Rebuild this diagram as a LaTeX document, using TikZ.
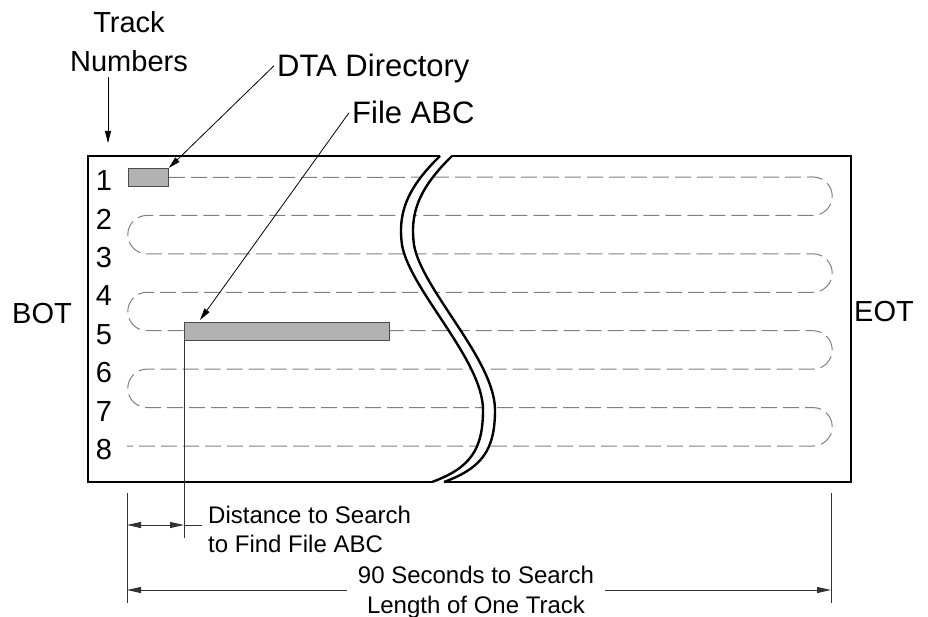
\documentclass[tikz,border=0pt]{standalone}
\usepackage{fontspec}
\setmainfont{Liberation Sans}
\usetikzlibrary{arrows.meta,backgrounds,positioning}

\begin{document}
\begin{tikzpicture}[x=1pt,y=-1pt,every node/.style={inner sep=0pt},
  bigtext/.style={font=\fontsize{29}{35}\selectfont},
  labeltext/.style={font=\fontsize{31}{37}\selectfont},
  smalltext/.style={font=\fontsize{24}{29}\selectfont},
  edgeline/.style={line width=2.4pt,line join=miter},
  waveline/.style={line width=2.4pt},
  trackline/.style={draw=black!50,line width=1pt,dash pattern=on 16pt off 6pt},
  filebox/.style={draw=black!70,fill=black!30,line width=0.8pt},
  pointer/.style={line width=0.8pt,-{Triangle[length=12pt,width=6pt]}},
  dimline/.style={line width=1pt,draw=black!80},
  dimarrow/.style={dimline,-{Triangle[length=14pt,width=6pt]}}
]

\useasboundingbox (0,0) rectangle (928,617);

% data blocks on the tape
\node[filebox,minimum width=40pt,minimum height=18pt,anchor=north west] (dtabox) at (128,168) {};
\node[filebox,minimum width=205pt,minimum height=18pt,anchor=north west] (fabcbox) at (184,322) {};

% serpentine tracks, cut by the break
\begin{scope}[on background layer]
\draw[trackline] (dtabox.east) -- (813,177) arc[start angle=90,end angle=-90,radius=19.215pt]
  \foreach \k in {1,2,3}{ -- ++(-666,0) arc[start angle=90,end angle=270,radius=19.215pt]
                          -- ++(666,0) arc[start angle=90,end angle=-90,radius=19.215pt] }
  -- ++(-686,0);
\fill[white] (440,156) .. controls (405,190) and (398,215) .. (402,245)
  .. controls (410,290) and (483,360) .. (483,410)
  .. controls (483,450) and (470,468) .. (432,482) -- (444,482)
  .. controls (482,468) and (495,450) .. (495,410)
  .. controls (495,360) and (422,290) .. (414,245)
  .. controls (410,215) and (417,190) .. (452,156) -- cycle;
\end{scope}

% tape outline with break
\draw[edgeline] (440,156) -- (88,156) -- (88,482) -- (432,482);
\draw[edgeline] (452,156) -- (851,156) -- (851,482) -- (444,482);
\foreach \s in {0,12}
  \draw[waveline,xshift=\s pt] (440,156) .. controls (405,190) and (398,215) .. (402,245)
    .. controls (410,290) and (483,360) .. (483,410)
    .. controls (483,450) and (470,468) .. (432,482);

% track numbers
\foreach \i in {1,...,8}
  \node[bigtext] (num\i) at (104,{180.5+(\i-1)*38.43}) {\i};
\node[bigtext] (bot) at (42,314) {BOT};
\node[bigtext,anchor=west] (eot) at (854,312) {EOT};

% labels at the top
\node[bigtext,anchor=base] (track) at (129,33) {Track};
\node[bigtext,anchor=base] (numbers) at (129,72) {Numbers};
\coordinate (tntip) at (108,143);
\draw[pointer] ([yshift=-5pt]numbers.south -| tntip) -- (tntip);

\node[labeltext,text depth=0pt,anchor=base west] (dta) at (277,77) {DTA Directory};
\draw[pointer] ([xshift=-3pt]dta.west) -- (dtabox.north east);

\node[labeltext,text depth=0pt,anchor=base west] (fileabc) at (352,124) {File ABC};
\coordinate (fabctip) at (200,320);
\draw[pointer] ([xshift=-3pt]fileabc.west) -- (fabctip);

% dimensions
\coordinate (extL) at (127,493);
\coordinate (extR) at (831,493);
\draw[dimline] (extL) -- ++(0,110);
\draw[dimline] (extR) -- ++(0,110);
\draw[dimline] (fabcbox.south west) -- ++(0,197);

\coordinate (distL) at (127,525);
\draw[dimline,{Triangle[length=14pt,width=6pt]}-{Triangle[length=14pt,width=6pt]}] (distL) -- (distL -| fabcbox.south west);
\draw[dimline] (distL -| fabcbox.south west) -- ++(18,0);
\node[smalltext,anchor=base west] (dist1) at (208,523) {Distance to Search};
\node[smalltext,anchor=base west] (dist2) at ([yshift=-29pt]dist1.base west) {to Find File ABC};

\node[smalltext,anchor=base] (secs) at (476,583) {90 Seconds to Search};
\node[smalltext,anchor=base] (onetrack) at ([yshift=-30pt]secs.base) {Length of One Track};
\coordinate (dimL) at (127,590);
\coordinate (dimR) at (831,590);
\draw[dimarrow] ([xshift=-11pt]secs.west |- dimL) -- (dimL);
\draw[dimarrow] ([xshift=11pt]secs.east |- dimR) -- (dimR);

\end{tikzpicture}
\end{document}
